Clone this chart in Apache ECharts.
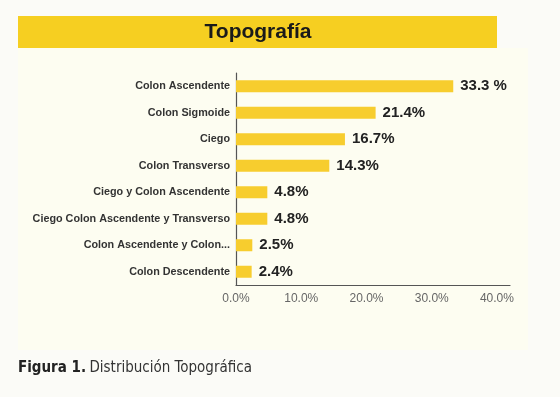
<!DOCTYPE html>
<html>
<head>
<meta charset="utf-8">
<script src="https://cdn.jsdelivr.net/npm/echarts@6/dist/echarts.min.js"></script>
<style>
  html, body { margin: 0; padding: 0; background: #fbfbf7; }
  #chart { width: 560px; height: 397px; }
</style>
</head>
<body>
<div id="chart"></div>
<script>
// datos
const categories = [
  'Colon Ascendente',
  'Colon Sigmoide',
  'Ciego',
  'Colon Transverso',
  'Ciego y Colon Ascendente',
  'Ciego Colon Ascendente y Transverso',
  'Colon Ascendente y Colon...',
  'Colon Descendente'
];
const values = [33.3, 21.4, 16.7, 14.3, 4.8, 4.8, 2.5, 2.4];
const valueLabels = ['33.3 %', '21.4%', '16.7%', '14.3%', '4.8%', '4.8%', '2.5%', '2.4%'];

const chart = echarts.init(document.getElementById('chart'));

const options = {
  backgroundColor: '#fbfbf7',
  animation: false,
  graphic: [
    // panel crema
    { type: 'rect', z: -10, shape: { x: 18, y: 48, width: 510, height: 302 }, style: { fill: '#fdfdf1' } },
    // barra del titulo
    { type: 'rect', z: -5, shape: { x: 18, y: 16, width: 479, height: 32 }, style: { fill: '#f6cf21' } },
    {
      type: 'text', x: 258, y: 32, z: 5,
      style: {
        text: 'Topografía', fill: '#1a1a1a', align: 'center', verticalAlign: 'middle',
        font: 'bold 21px "Liberation Sans", Arial, sans-serif'
      }
    },
    {
      type: 'text', left: 18, top: 361,
      style: {
        rich: {
          b: { fontWeight: 'bold', fontSize: 15, fontFamily: '"DejaVu Sans Condensed", "DejaVu Sans", sans-serif', fill: '#222' },
          n: { fontSize: 15, fontFamily: '"DejaVu Sans Condensed", "DejaVu Sans", sans-serif', fill: '#333' }
        },
        text: '{b|Figura 1.} {n|Distribución Topográfica}'
      }
    }
  ],
  grid: { left: 236, top: 73, width: 274, height: 212 },
  xAxis: {
    type: 'value',
    min: 0,
    max: 42,
    interval: 10,
    splitLine: { show: false },
    axisLine: { show: true, lineStyle: { color: '#555', width: 1.2 } },
    axisTick: { show: false },
    axisLabel: {
      showMaxLabel: false,
      formatter: (v) => v.toFixed(1) + '%',
      color: '#666',
      fontSize: 12,
      fontFamily: '"Liberation Sans", Arial, sans-serif',
      margin: 8
    }
  },
  yAxis: {
    type: 'category',
    inverse: true,
    data: categories,
    axisLine: { show: true, lineStyle: { color: '#555', width: 1.2 } },
    axisTick: { show: false },
    axisLabel: {
      color: '#333',
      fontSize: 10.8,
      fontWeight: 'bold',
      fontFamily: '"Liberation Sans Narrow", "Liberation Sans", Arial, sans-serif',
      margin: 6
    }
  },
  series: [
    {
      type: 'bar',
      data: values,
      barWidth: 12,
      itemStyle: { color: '#f7cd2e' },
      label: {
        show: true,
        position: 'right',
        distance: 7,
        formatter: (p) => valueLabels[p.dataIndex],
        color: '#222',
        fontSize: 15,
        fontWeight: 'bold',
        fontFamily: '"Liberation Sans", Arial, sans-serif'
      }
    }
  ]
};

chart.setOption(options);
</script>
</body>
</html>
